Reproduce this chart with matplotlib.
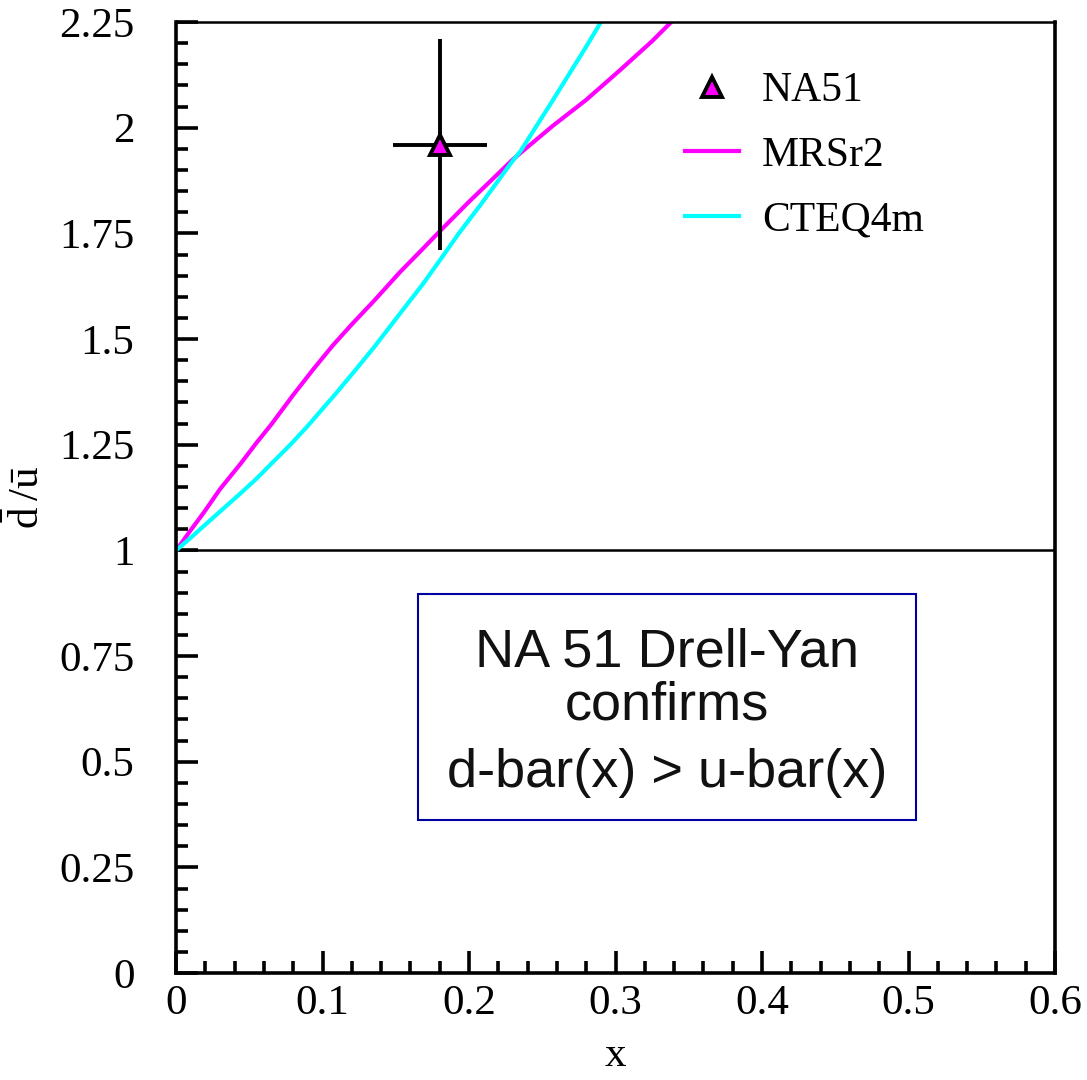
import numpy as np
import matplotlib.pyplot as plt
from matplotlib.patches import Rectangle
from matplotlib.ticker import MultipleLocator, FormatStrFormatter

# --- data ---
na51_x = [0.18]
na51_y = [1.96]
na51_xerr = [0.032]
na51_yerr = [0.25]

mrs_x = [0, 0.01, 0.019, 0.03, 0.044, 0.055, 0.065, 0.08, 0.094, 0.107, 0.12, 0.135, 0.153,
         0.168, 0.18, 0.2, 0.215, 0.229, 0.235, 0.257, 0.28, 0.303, 0.325, 0.338]
mrs_y = [1.0, 1.048, 1.09, 1.145, 1.205, 1.255, 1.298, 1.368, 1.43, 1.485, 1.535, 1.59, 1.659,
         1.712, 1.755, 1.825, 1.875, 1.922, 1.94, 2.004, 2.066, 2.136, 2.205, 2.25]

cteq_x = [0, 0.01, 0.019, 0.03, 0.044, 0.055, 0.065, 0.078, 0.09, 0.1, 0.11, 0.122, 0.135,
          0.145, 0.155, 0.168, 0.18, 0.193, 0.2075, 0.229, 0.235, 0.257, 0.28, 0.29]
cteq_y = [1.0, 1.03, 1.058, 1.092, 1.135, 1.17, 1.205, 1.25, 1.295, 1.335, 1.375, 1.425, 1.48,
          1.525, 1.57, 1.628, 1.686, 1.75, 1.816, 1.918, 1.944, 2.064, 2.192, 2.25]

box_lines = ["NA 51 Drell-Yan", "confirms", "d-bar(x) > u-bar(x)"]
box_line_y = [0.725, 0.60, 0.441]

plt.rcParams['font.family'] = ['Liberation Serif', 'DejaVu Serif']
plt.rcParams['mathtext.fontset'] = 'custom'
plt.rcParams['mathtext.rm'] = 'Liberation Serif'

fig = plt.figure(figsize=(10.87, 10.8), dpi=100)
ax = fig.add_axes([0.162, 0.099, 0.8086, 0.8806])

# reference line at 1
ax.axhline(1.0, color='black', lw=1.8, zorder=1)

ax.plot(mrs_x, mrs_y, color='#ff00ff', lw=3, label='MRSr2', zorder=2,
        solid_joinstyle='round')
ax.plot(cteq_x, cteq_y, color='#00ffff', lw=3, label='CTEQ4m', zorder=2,
        solid_joinstyle='round')

ax.errorbar(na51_x, na51_y, xerr=na51_xerr, yerr=na51_yerr, fmt='none',
            ecolor='black', elinewidth=2.8, capsize=0, zorder=3)
ax.plot(na51_x, na51_y, linestyle='none', marker='^', markersize=15,
        markerfacecolor='#ff00ff', markeredgecolor='black', markeredgewidth=2.8,
        label='NA51', zorder=4)

# text box
ax.add_patch(Rectangle((0.165, 0.3626), 0.34, 0.535, fill=False,
                       edgecolor='#0000a0', lw=1.5, zorder=2))
for line, yy in zip(box_lines, box_line_y):
    ax.text(0.335, yy, line, ha='center', va='baseline', fontsize=39,
            family=['Liberation Sans', 'DejaVu Sans'], color='#111111')

ax.set_xlim(0, 0.6)
ax.set_ylim(0, 2.25)

ax.xaxis.set_major_locator(MultipleLocator(0.1))
ax.xaxis.set_minor_locator(MultipleLocator(0.02))
ax.yaxis.set_major_locator(MultipleLocator(0.25))
ax.yaxis.set_minor_locator(MultipleLocator(0.05))
ax.xaxis.set_major_formatter(FormatStrFormatter('%g'))
ax.yaxis.set_major_formatter(FormatStrFormatter('%g'))

ax.tick_params(which='both', direction='in', top=False, right=False, width=2.6,
               labelsize=31)
ax.tick_params(which='major', length=16)
ax.tick_params(which='minor', length=8.5)
ax.tick_params(axis='x', which='major', pad=8)
ax.tick_params(axis='y', which='major', pad=30)

for side in ['left', 'bottom', 'right']:
    ax.spines[side].set_linewidth(2.6)
ax.spines['top'].set_linewidth(1.8)

ax.set_xlabel('x', fontsize=31, labelpad=10)
ax.set_ylabel(r'$\bar{\mathrm{d}}\,/\bar{\mathrm{u}}$', fontsize=31, labelpad=8)

handles, labels = ax.get_legend_handles_labels()
order = [2, 0, 1]
ax.legend([handles[i] for i in order], [labels[i] for i in order],
          loc='upper left', bbox_to_anchor=(0.56, 0.965), frameon=False,
          fontsize=30, handlelength=1.3, handletextpad=0.55, labelspacing=0.62,
          borderaxespad=0)

fig.savefig('out.png', dpi=100)
